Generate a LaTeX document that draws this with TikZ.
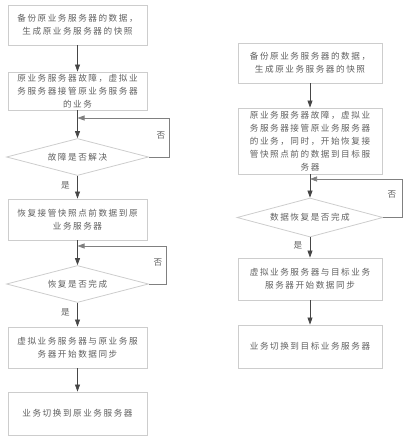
\documentclass[tikz,border=0pt]{standalone}
\usepackage{fontspec}
\usetikzlibrary{arrows.meta,shapes.geometric,positioning}
\setmainfont{Noto Sans CJK SC}[LetterSpace=18]
\definecolor{boxline}{RGB}{205,205,205}
\definecolor{txt}{RGB}{95,95,95}
\definecolor{arr}{RGB}{70,70,70}

\begin{document}
\begin{tikzpicture}[x=1pt,y=-1pt,
  box/.style={draw=boxline,line width=0.9pt,rectangle,inner sep=2pt,align=center,
    text=txt,font=\fontsize{8.6}{13}\selectfont},
  dec/.style={draw=boxline,line width=0.8pt,diamond,inner sep=0pt,shape aspect=3.8,
    minimum width=142pt,minimum height=37pt,text=txt,font=\fontsize{8.6}{13}\selectfont},
  flow/.style={draw=arr,line width=0.7pt,-{Triangle[length=7pt,width=5pt]}},
  back/.style={draw=gray,line width=0.7pt,-{Triangle[length=7pt,width=5pt]}},
  lab/.style={text=txt,font=\fontsize{8.6}{10}\selectfont}]
\useasboundingbox (0,0) rectangle (407,442);
% left flow
\node[box,minimum width=139pt,minimum height=40pt] (b1) at (77.5,25) {备份原业务服务器的数据，\\生成原业务服务器的快照};
\node[box,minimum width=139pt,minimum height=38pt] (b2) at (77.5,91) {原业务服务器故障，虚拟业\\务服务器接管原业务服务器\\的业务};
\node[dec] (d1) at (77.5,157) {故障是否解决};
\node[box,minimum width=139pt,minimum height=41pt] (b3) at (77.5,219.5) {恢复接管快照点前数据到原\\业务服务器};
\node[dec] (d2) at (77.5,284) {恢复是否完成};
\node[box,minimum width=139pt,minimum height=41pt] (b4) at (77.5,347.5) {虚拟业务服务器与原业务服\\务器开始数据同步};
\node[box,minimum width=139pt,minimum height=43pt] (b5) at (77.5,413.5) {业务切换到原业务服务器};
\coordinate (j1) at (77.5,118);
\coordinate (j2) at (77.5,246);
\draw[flow] (b1) -- (b2);
\draw[flow] (b2) -- (d1);
\draw[back] (d1.east) -- (169,157) |- (j1);
\node[lab] (n1) at (161,135) {否};
\draw[flow] (d1) -- (b3) node[lab,pos=0.4,left=4pt] (y1) {是};
\draw[flow] (b3) -- (d2);
\draw[back] (d2.east) -- (166,284) |- (j2);
\node[lab] (n2) at (158,262) {否};
\draw[flow] (d2) -- (b4) node[lab,pos=0.4,left=4pt] (y2) {是};
\draw[flow] (b4) -- (b5);
% right flow
\node[box,minimum width=144pt,minimum height=40pt] (r1) at (310,63) {备份原业务服务器的数据，\\生成原业务服务器的快照};
\node[box,minimum width=144pt,minimum height=66pt] (r2) at (310,141) {原业务服务器故障，虚拟业\\务服务器接管原业务服务器\\的业务，同时，开始恢复接\\管快照点前的数据到目标服\\务器};
\node[dec,minimum width=146pt,minimum height=39pt] (rd) at (310,217.5) {数据恢复是否完成};
\node[box,minimum width=144pt,minimum height=42pt] (r3) at (310,279) {虚拟业务服务器与目标业务\\服务器开始数据同步};
\node[box,minimum width=144pt,minimum height=43pt] (r4) at (310,346.5) {业务切换到目标业务服务器};
\coordinate (j3) at (310,179);
\draw[flow] (r1) -- (r2);
\draw[flow] (r2) -- (rd);
\draw[back] (rd.east) -- (402,217.5) |- (j3);
\node[lab] (n3) at (392,194) {否};
\draw[flow] (rd) -- (r3) node[lab,pos=0.4,left=4pt] (y3) {是};
\draw[flow] (r3) -- (r4);
\end{tikzpicture}
\end{document}
